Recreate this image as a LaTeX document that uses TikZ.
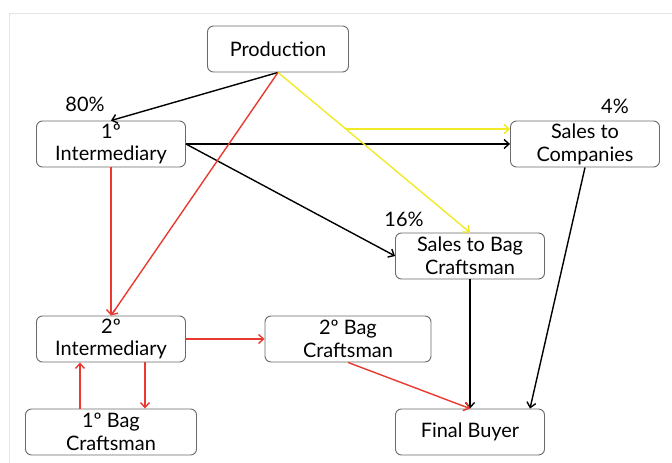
\documentclass[tikz,border=0pt]{standalone}
\usepackage{fontspec}
\setmainfont{Lato}
\usetikzlibrary{arrows.meta,calc}
\definecolor{redl}{RGB}{232,58,48}
\definecolor{yell}{RGB}{240,234,40}
\definecolor{boxg}{RGB}{105,105,105}
\definecolor{frameg}{RGB}{228,228,228}
\begin{document}
\begin{tikzpicture}[x=1bp,y=-1bp,
 box/.style={draw=boxg,line width=0.9bp,rounded corners=6bp,minimum height=46bp,inner sep=0pt,align=center,font=\fontsize{20}{23}\selectfont},
 arr/.style={-{Straight Barb[length=5bp,width=9bp]},line width=1.4bp},
 lab/.style={font=\fontsize{20}{22}\selectfont,inner sep=0pt}]
\useasboundingbox (0,0) rectangle (672,463);
\draw[frameg,line width=1bp] (9,463) -- (9,14) -- (672,14);
\node[box,minimum width=141bp] (prod) at (278,49) {Production};
\node[box,minimum width=149bp] (int1) at (111,144) {1º\\Intermediary};
\node[box,minimum width=149bp] (sc) at (585,144) {Sales to\\Companies};
\node[box,minimum width=149bp] (sbc) at (470,256) {Sales to Bag\\Craftsman};
\node[box,minimum width=149bp] (int2) at (111,339) {2º\\Intermediary};
\node[box,minimum width=166bp] (bc2) at (348,339) {2º Bag\\Craftsman};
\node[box,minimum width=171bp] (bc1) at (111,432) {1º Bag\\Craftsman};
\node[box,minimum width=149bp] (fb) at (470,432) {Final Buyer};
\node[lab] (l80) at (85,104) {80\%};
\node[lab] (l4) at (615,106) {4\%};
\node[lab] (l16) at (404,219) {16\%};
\coordinate (yb) at ($(prod.south)!0.354!(sbc.north)$);
% black
\draw[arr] (prod.south) -- (int1.north);
\draw[arr] (int1.east) -- (sc.west);
\draw[arr] (int1.east) -- (sbc.west);
\draw[arr] (sbc.south) -- (fb.north);
\draw[arr] (sc.south) -- ([xshift=60bp]fb.north);
% yellow
\draw[arr,yell] (prod.south) -- (sbc.north);
\draw[arr,yell] (yb) -- (yb -| sc.west);
% red
\draw[arr,redl] (prod.south) -- (int2.north);
\draw[arr,redl] (int1.south) -- (int2.north);
\draw[arr,redl] (int2.east) -- (bc2.west);
\draw[arr,redl] ([xshift=34bp]int2.south) -- ([xshift=34bp]int2.south |- bc1.north);
\draw[arr,redl] ([xshift=-31bp]bc1.north) -- ([xshift=-31bp]bc1.north |- int2.south);
\draw[arr,redl] (bc2.south) -- (fb.north);
\end{tikzpicture}
\end{document}
